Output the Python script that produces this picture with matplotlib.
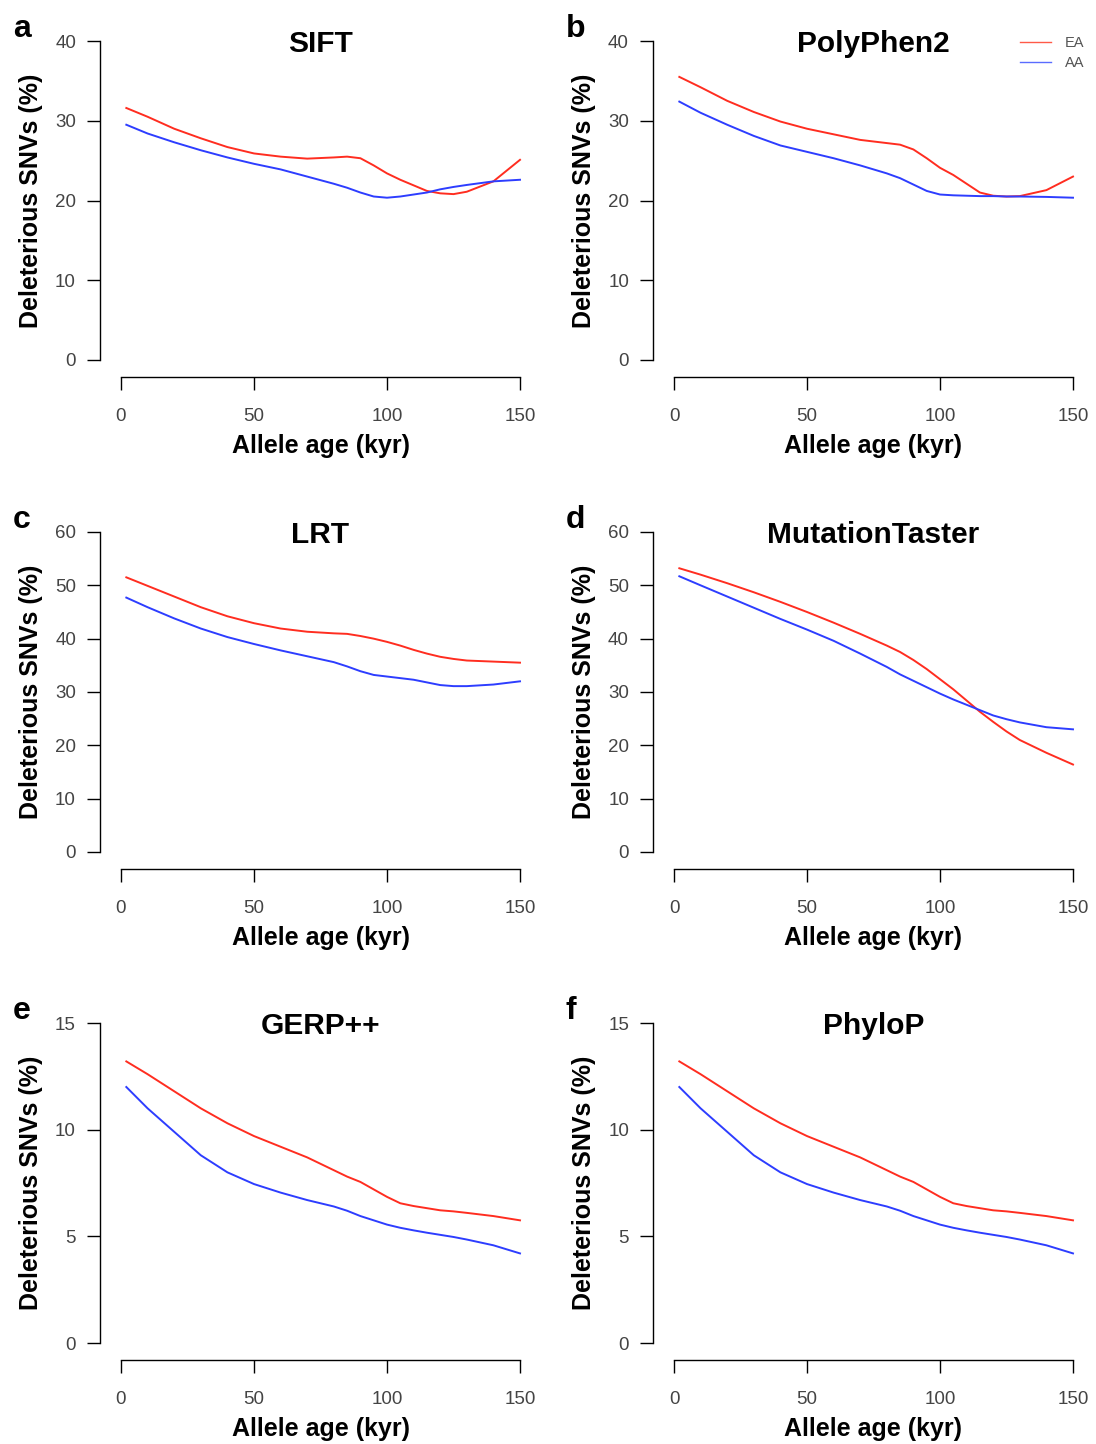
import numpy as np
import matplotlib
matplotlib.use("Agg")
import matplotlib.pyplot as plt
from matplotlib.lines import Line2D

plt.rcParams['font.family'] = ['Liberation Sans', 'DejaVu Sans']

age = [2, 10, 20, 30, 40, 50, 60, 70, 80, 85, 90, 95, 100, 105, 110, 115, 120, 125, 130, 140, 150]

sift_ea = [31.6, 30.5, 29.0, 27.8, 26.7, 25.9, 25.5, 25.25, 25.4, 25.5, 25.3, 24.4, 23.4, 22.6, 21.9, 21.2, 20.9, 20.8, 21.1, 22.4, 25.1]
sift_aa = [29.5, 28.4, 27.3, 26.3, 25.4, 24.6, 23.9, 23.0, 22.1, 21.6, 21.0, 20.5, 20.35, 20.5, 20.75, 21.0, 21.4, 21.7, 21.95, 22.4, 22.6]

pph_ea = [35.5, 34.2, 32.5, 31.1, 29.9, 29.0, 28.3, 27.6, 27.2, 27.0, 26.4, 25.3, 24.1, 23.2, 22.1, 21.0, 20.6, 20.5, 20.55, 21.3, 23.0]
pph_aa = [32.4, 31.0, 29.5, 28.1, 26.9, 26.1, 25.3, 24.4, 23.4, 22.8, 22.0, 21.2, 20.75, 20.65, 20.6, 20.55, 20.55, 20.5, 20.5, 20.45, 20.35]

lrt_ea = [51.5, 49.9, 47.9, 45.9, 44.2, 42.9, 41.9, 41.3, 41.0, 40.9, 40.5, 40.0, 39.4, 38.7, 37.9, 37.2, 36.6, 36.2, 35.9, 35.7, 35.5]
lrt_aa = [47.7, 45.9, 43.8, 41.9, 40.3, 39.0, 37.8, 36.7, 35.6, 34.8, 33.9, 33.2, 32.9, 32.6, 32.3, 31.8, 31.3, 31.1, 31.1, 31.4, 32.0]

mt_ea = [53.2, 52.0, 50.4, 48.7, 46.9, 45.0, 43.0, 40.9, 38.7, 37.5, 36.0, 34.3, 32.4, 30.5, 28.4, 26.3, 24.4, 22.6, 21.0, 18.6, 16.4]
mt_aa = [51.7, 50.0, 47.9, 45.8, 43.7, 41.7, 39.6, 37.2, 34.7, 33.3, 32.1, 30.9, 29.7, 28.6, 27.6, 26.6, 25.6, 24.9, 24.3, 23.4, 23.0]

gerp_ea = [13.2, 12.6, 11.8, 11.0, 10.3, 9.7, 9.2, 8.7, 8.1, 7.8, 7.55, 7.2, 6.85, 6.55, 6.42, 6.32, 6.22, 6.17, 6.1, 5.95, 5.75]
gerp_aa = [12.0, 11.0, 9.9, 8.8, 8.0, 7.45, 7.05, 6.7, 6.4, 6.2, 5.95, 5.75, 5.55, 5.4, 5.28, 5.17, 5.07, 4.97, 4.85, 4.58, 4.2]

phylop_ea = [13.2, 12.6, 11.8, 11.0, 10.3, 9.7, 9.2, 8.7, 8.1, 7.8, 7.55, 7.2, 6.85, 6.55, 6.42, 6.32, 6.22, 6.17, 6.1, 5.95, 5.75]
phylop_aa = [12.0, 11.0, 9.9, 8.8, 8.0, 7.45, 7.05, 6.7, 6.4, 6.2, 5.95, 5.75, 5.55, 5.4, 5.28, 5.17, 5.07, 4.97, 4.85, 4.58, 4.2]

titles = ['SIFT', 'PolyPhen2', 'LRT', 'MutationTaster', 'GERP++', 'PhyloP']
letters = ['a', 'b', 'c', 'd', 'e', 'f']
ea_series = [sift_ea, pph_ea, lrt_ea, mt_ea, gerp_ea, phylop_ea]
aa_series = [sift_aa, pph_aa, lrt_aa, mt_aa, gerp_aa, phylop_aa]
y_max = [40, 40, 60, 60, 15, 15]
y_step = [10, 10, 10, 10, 5, 5]
x_ticks = [0, 50, 100, 150]

RED = '#ff2d20'
BLUE = '#2d3dff'
W, H = 1096, 1444

fig = plt.figure(figsize=(W / 100, H / 100), dpi=100)

def fx(px):
    return px / W

def fy(py):
    return 1 - py / H

# pixel layout of each plot region (x of 0 and 150, y of top and 0)
col_x = [(121, 520), (674, 1073)]
row_y = [(41, 360), (532, 852), (1023, 1343)]

for i in range(6):
    r, c = divmod(i, 2)
    x0, x1 = col_x[c]
    yt, yb = row_y[r]
    ax = fig.add_axes([fx(x0), fy(yb), (x1 - x0) / W, (yb - yt) / H])
    ax.set_xlim(0, 150)
    ax.set_ylim(0, y_max[i])

    ax.plot(age, ea_series[i], color=RED, lw=1.4, clip_on=False, solid_joinstyle='round')
    ax.plot(age, aa_series[i], color=BLUE, lw=1.4, clip_on=False, solid_joinstyle='round')

    for s in ['top', 'right']:
        ax.spines[s].set_visible(False)
    ax.spines['left'].set_position(('outward', 15))
    ax.spines['bottom'].set_position(('outward', 12.5))
    for s in ['left', 'bottom']:
        ax.spines[s].set_linewidth(1.0)

    ax.set_xticks(x_ticks)
    ax.set_yticks(np.arange(0, y_max[i] + 1, y_step[i]))
    ax.tick_params(axis='both', length=9.4, width=1.0, labelsize=13.5, labelcolor='#444444')
    ax.tick_params(axis='x', pad=12.5)
    ax.tick_params(axis='y', pad=8)

    xc = (x0 + x1) / 2
    fig.text(fx(xc), fy(yt + 11), titles[i], ha='center', va='baseline',
             fontsize=21.5, fontweight='bold')
    fig.text(fx(xc), fy(yb + 93), 'Allele age (kyr)', ha='center', va='baseline',
             fontsize=18, fontweight='bold')
    fig.text(fx(x0 - 90), fy((yt + yb) / 2), 'Deleterious SNVs (%)', rotation=90,
             ha='center', va='center', fontsize=18, fontweight='bold')
    fig.text(fx(x0 - 108), fy(yt - 4), letters[i], ha='left', va='baseline',
             fontsize=23, fontweight='bold')

    if i == 1:
        handles = [Line2D([], [], color='#ff5a48', lw=1.0), Line2D([], [], color='#5a6cff', lw=1.0)]
        ax.legend(handles, ['EA', 'AA'], loc='upper left', frameon=False,
                  bbox_to_anchor=(fx(1020), fy(36)), bbox_transform=fig.transFigure,
                  fontsize=10.5, handlelength=2.1, handletextpad=0.95, labelspacing=0.42,
                  borderpad=0, borderaxespad=0, labelcolor='#555555')

fig.savefig('out.png', dpi=100)
